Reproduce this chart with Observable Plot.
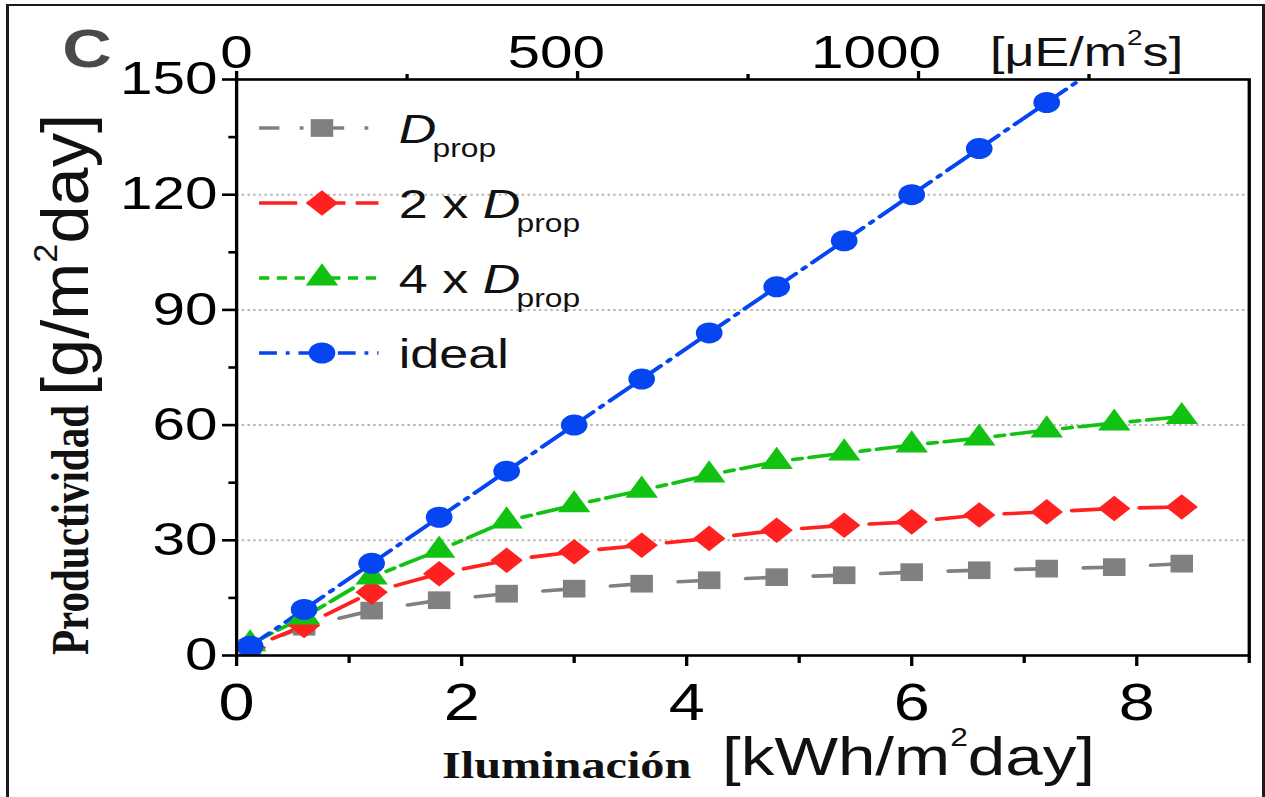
<!DOCTYPE html>
<html><head><meta charset="utf-8">
<script src="https://cdn.jsdelivr.net/npm/d3@7"></script>
<script src="https://cdn.jsdelivr.net/npm/@observablehq/plot@0.6"></script>
<style>
html,body{margin:0;padding:0;background:#fff;overflow:hidden;width:1265px;height:797px}
#border{position:absolute;left:6px;top:4px;width:1259px;height:900px;box-sizing:border-box;border:3px solid #1a1a1a;border-top-width:2px}
#stage{position:absolute;left:0;top:0;width:996px;height:797px;transform-origin:0 0;transform:scaleX(1.27008)}
#stage svg{position:absolute;left:0;top:0}
</style></head><body>
<div id="border"></div>
<div id="stage"></div>
<script>
// ---- data ----
const illum = [0.12, 0.6, 1.2, 1.8, 2.4, 3.0, 3.6, 4.2, 4.8, 5.4, 6.0, 6.6, 7.2, 7.8, 8.4];
const dProp  = [2, 7.5, 11.7, 14.4, 16.1, 17.4, 18.7, 19.6, 20.4, 20.9, 21.7, 22.2, 22.6, 23.0, 23.9];
const dProp2 = [2, 7.8, 16.5, 21.3, 24.8, 27.0, 28.7, 30.5, 32.6, 33.9, 34.8, 36.6, 37.4, 38.3, 38.7];
const dProp4 = [3, 10, 20.4, 27.4, 35.0, 39.2, 43.0, 47.0, 50.5, 52.7, 54.8, 56.6, 58.7, 60.5, 62.2];
const ideal  = [2.4, 12, 24, 36, 48, 60, 72, 84, 96, 108, 120, 132, 144, 156, 168];

const seriesPrefix = ["", "2 x ", "4 x ", "ideal"];
const seriesColor  = ["#808080", "#ff2020", "#12c212", "#0645f2"];
// dash pattern restarted on every segment between two markers
const seriesDash   = ["0,29,20,200", "0,20,30,200", "0,13,7,6,22,200", "20,7,3,7,200"];
const legendDash   = ["16,16,3,16", "30,8", "8,6", "14,7,3,7"];
const seriesSymbol = ["square", "diamond2", "triangle", "circle"];
const seriesR      = [10, 11.5, 9.5, 10.5];
const seriesValues = [dProp, dProp2, dProp4, ideal];

const xMajor = [0, 2, 4, 6, 8];
const xMinor = [1, 3, 5, 7, 9];
const yMajor = [0, 30, 60, 90, 120, 150];
const yMinor = [15, 45, 75, 105, 135];
const gridTicks = [30, 60, 90, 120];
const topMajor = [0, 500, 1000];
const topMinor = [250, 750, 1250];
const uePerKwh = 165;       // top-axis tick positions (µE/m²s per kWh/m²day)
const ueLabelPerKwh = 176;  // top-axis label positions as drawn in the figure

// ---- chart ----
const W = 996, H = 797;
const tables = seriesValues.map((vals, s) => illum.map((x, i) => ({x, y: vals[i], s})));
// one path per segment so each dash pattern starts at a marker
const segTables = seriesValues.map((vals, s) =>
  d3.range(illum.length - 1).flatMap(i => [
    {x: illum[i], y: vals[i], seg: i},
    {x: illum[i + 1], y: vals[i + 1], seg: i}
  ]));

const lineMarks = segTables.map((t, s) => Plot.line(t, {
  x: "x", y: "y", z: "seg", stroke: seriesColor[s], strokeWidth: 3.6,
  strokeDasharray: seriesDash[s], clip: true
}));
const dotMarks = tables.map((t, s) => Plot.dot(t, {
  x: "x", y: "y", symbol: seriesSymbol[s], r: seriesR[s],
  fill: seriesColor[s], stroke: "none", clip: true
}));

const chart = Plot.plot({
  width: W, height: H,
  marginLeft: 185.8, marginRight: 12.9, marginTop: 79, marginBottom: 142,
  style: {fontFamily: "'Liberation Sans', Arial, sans-serif", color: "#000", background: "transparent", overflow: "visible"},
  x: {domain: [0, 9]},
  y: {domain: [0, 150]},
  marks: [
    Plot.gridY(gridTicks, {stroke: "#b8b8b8", strokeOpacity: 1, strokeWidth: 2, strokeDasharray: "2,2.5"}),
    ...lineMarks,
    ...dotMarks,
    Plot.frame({stroke: "#000", strokeWidth: 2.6}),
    Plot.axisY(yMajor, {anchor: "left", tickSize: 11, tickPadding: 4, fontSize: 46, strokeWidth: 2.6, label: null}),
    Plot.axisY(yMinor, {anchor: "left", tickSize: 6, fill: "none", strokeWidth: 2.6, label: null}),
    Plot.axisX(xMajor, {anchor: "bottom", tickSize: 11, tickPadding: 17, fontSize: 51, strokeWidth: 2.6, label: null}),
    Plot.axisX(xMinor, {anchor: "bottom", tickSize: 8, fill: "none", strokeWidth: 2.6, label: null}),
    Plot.axisX(topMajor.map(u => u / uePerKwh), {anchor: "top", tickSize: 9, fill: "none", strokeWidth: 2.6, label: null}),
    Plot.axisX(topMinor.map(u => u / uePerKwh), {anchor: "top", tickSize: 6, fill: "none", strokeWidth: 2.6, label: null}),
    Plot.axisX(topMajor.map(u => u / ueLabelPerKwh), {anchor: "top", tickSize: 0, tickPadding: 12, fontSize: 46,
      tickFormat: d => String(Math.round(d * ueLabelPerKwh)), label: null})
  ]
});
document.getElementById("stage").appendChild(chart);

// ---- overlay: legend and titles ----
const ov = d3.select("#stage").append("svg")
  .attr("width", W).attr("height", H)
  .attr("font-family", "'Liberation Sans', Arial, sans-serif");

const symbolType = {square: d3.symbolSquare, diamond2: d3.symbolDiamond2, triangle: d3.symbolTriangle, circle: d3.symbolCircle};
seriesPrefix.forEach((pre, s) => {
  const cy = 128 + s * 75;
  const g = ov.append("g");
  g.append("line").attr("x1", 204).attr("x2", 298).attr("y1", cy).attr("y2", cy)
    .attr("stroke", seriesColor[s]).attr("stroke-width", 3.6).attr("stroke-dasharray", legendDash[s]);
  g.append("path").attr("transform", `translate(253.5,${cy})`)
    .attr("d", d3.symbol(symbolType[seriesSymbol[s]], seriesR[s] * seriesR[s] * Math.PI)())
    .attr("fill", seriesColor[s]);
  const t = g.append("text").attr("x", 314).attr("y", cy + 15).attr("font-size", 41).attr("fill", "#111");
  if (pre === "ideal") {
    t.text("ideal");
  } else {
    if (pre) t.append("tspan").text(pre);
    t.append("tspan").attr("font-style", "italic").text("D");
    t.append("tspan").attr("font-size", 25).attr("dx", -3).attr("dy", 14).text("prop");
  }
});

// panel letter
ov.append("text").attr("x", 49).attr("y", 67).attr("font-size", 54).attr("font-weight", "bold")
  .attr("fill", "#4a4a4a").text("C");

// top axis unit
const tu = ov.append("text").attr("x", 779.5).attr("y", 66).attr("font-size", 41).attr("fill", "#111");
tu.append("tspan").text("[μE/m");
tu.append("tspan").attr("font-size", 22).attr("dy", -21).text("2");
tu.append("tspan").attr("dy", 21).text("s]");

// x title
ov.append("text").attr("x", 348).attr("y", 778).attr("font-size", 38).attr("font-weight", "bold")
  .attr("font-family", "'Liberation Serif', 'Times New Roman', serif").attr("fill", "#111").text("Iluminación");
const xu = ov.append("text").attr("x", 568.5).attr("y", 775).attr("font-size", 53).attr("fill", "#111");
xu.append("tspan").text("[kWh/m");
xu.append("tspan").attr("font-size", 25).attr("dy", -29).text("2");
xu.append("tspan").attr("dy", 29).text("day]");

// y title (two parts on one baseline)
ov.append("text").attr("transform", "translate(69,655) rotate(-90)")
  .attr("font-family", "'Liberation Serif', 'Times New Roman', serif")
  .attr("font-weight", "bold").attr("font-size", 41).attr("fill", "#111")
  .attr("textLength", 250).attr("lengthAdjust", "spacingAndGlyphs").text("Productividad");
const yt = ov.append("text").attr("transform", "translate(69,396) rotate(-90)").attr("font-size", 52).attr("fill", "#111")
  .attr("textLength", 282).attr("lengthAdjust", "spacingAndGlyphs");
yt.append("tspan").text("[g/m");
yt.append("tspan").attr("font-size", 26).attr("dy", -24).text("2");
yt.append("tspan").attr("dy", 24).text("day]");
</script>
</body></html>
